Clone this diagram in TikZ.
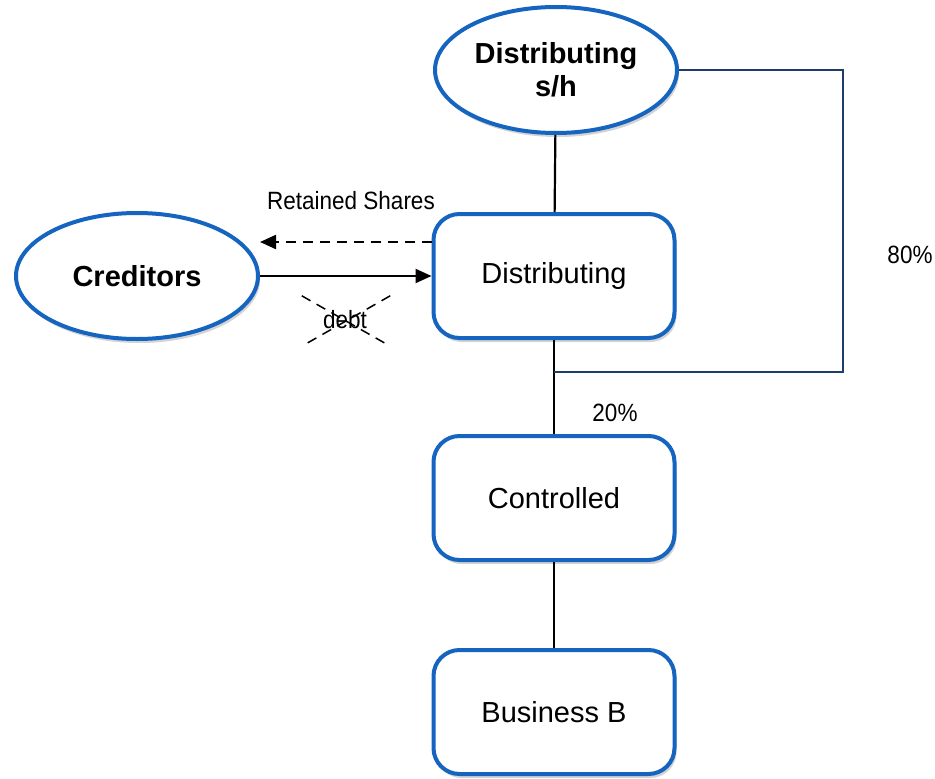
\documentclass[tikz,border=0pt]{standalone}
\usepackage{fontspec}
\setmainfont{Liberation Sans}
\newfontfamily\narrowfont[FakeStretch=0.9]{Liberation Sans}
\usetikzlibrary{arrows.meta, positioning, shapes, shadows}

\definecolor{boxblue}{RGB}{21,101,192}
\definecolor{linkblue}{RGB}{31,61,107}

\tikzset{
    entity/.style={ellipse, draw=boxblue, line width=4pt, fill=white, align=center,
        minimum width=242pt, minimum height=126pt, inner sep=0pt,
        font=\fontsize{29}{33}\selectfont\bfseries,
        drop shadow={shadow xshift=2pt, shadow yshift=-4pt, opacity=0.35}},
    company/.style={rectangle, rounded corners=26pt, draw=boxblue, line width=4pt, fill=white,
        minimum width=241pt, minimum height=124pt, inner sep=0pt,
        font=\fontsize{29}{33}\selectfont,
        drop shadow={shadow xshift=2pt, shadow yshift=-4pt, opacity=0.35}},
    note/.style={font=\fontsize{25}{28}\selectfont\narrowfont, inner sep=0pt},
    link/.style={black, line width=2.2pt},
}

\begin{document}
\begin{tikzpicture}[x=1pt, y=-1pt]
    \useasboundingbox (0,0) rectangle (935,779);

    \node (DSH) [entity] at (556,70) {Distributing\\s/h};
    \node (Cred) [entity] at (137,276) {Creditors};
    \node (Dist) [company] at (554,276) {Distributing};
    \node (Ctrl) [company] at (554,498) {Controlled};
    \node (BizB) [company] at (554,712) {Business B};

    \coordinate (J) at (554,372);
    \coordinate (R) at (843,372);

    % ownership lines
    \draw[link] (DSH) -- (Dist);
    \draw[link] (Dist) -- (J) -- (Ctrl);
    \draw[link] (Ctrl) -- (BizB);
    \draw[linkblue, line width=1.5pt] (DSH.east) -| (R) -- (J);

    \node (P80) [note] at (910,255) {80\%};
    \node (P20) [note] at (615,413) {20\%};

    % debt for shares exchange
    \coordinate (DS) at ([yshift=34pt]Dist.west);
    \draw[link, -{Triangle[length=16pt, width=14pt]}] (Cred.east) -- (Dist.west);
    \draw[link, dash pattern=on 10pt off 7pt, -{Triangle[length=16pt, width=14pt]}]
        (DS) -- (DS -| Cred.east);
    \node (RS) [note] at (351,201) {Retained Shares};

    \node (Debt) [note] at (345,320) {debt};
    \node (X) [minimum width=88pt, minimum height=50pt] at (346,321) {};
    \draw[link, dash pattern=on 10pt off 7pt, line width=1.5pt] (X.north west) -- (X.south east);
    \draw[link, dash pattern=on 10pt off 7pt, line width=1.5pt] (X.north east) -- (X.south west);
\end{tikzpicture}
\end{document}
